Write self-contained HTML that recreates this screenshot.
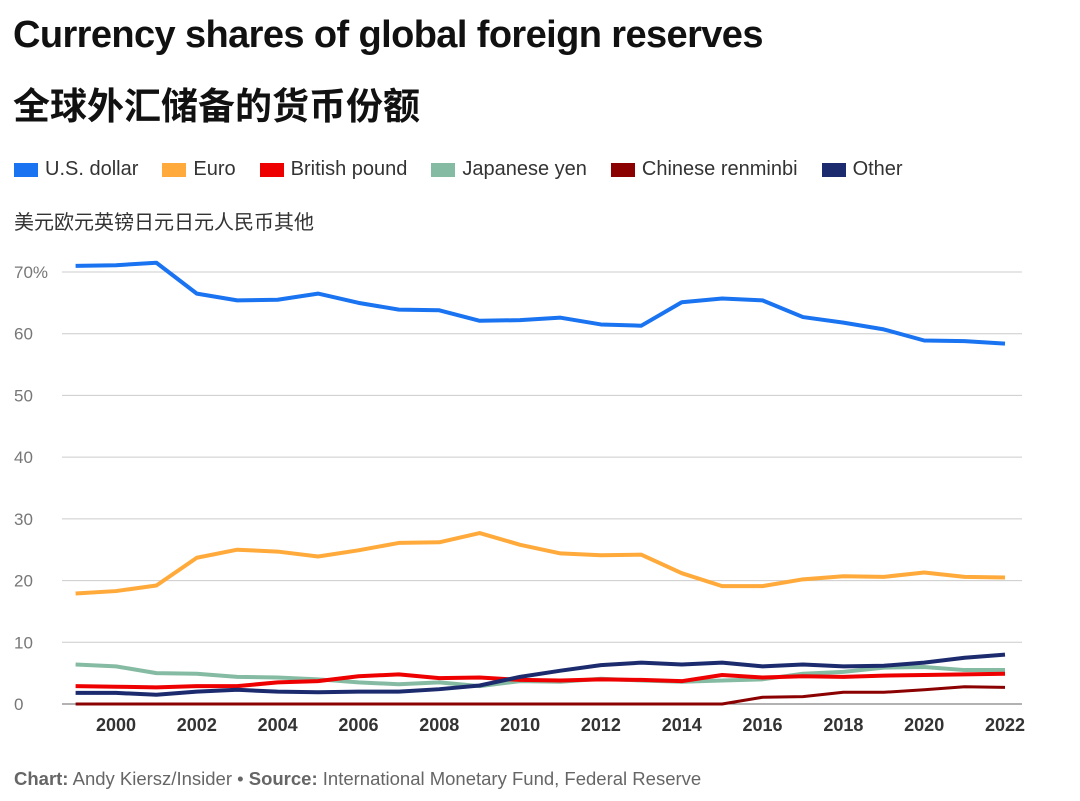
<!DOCTYPE html>
<html><head><meta charset="utf-8">
<style>
body{margin:0;width:1080px;height:801px;background:#fff;font-family:"Liberation Sans","Noto Sans CJK SC",sans-serif;overflow:hidden;position:relative}
.t1{position:absolute;left:13px;top:14px;font-size:38px;font-weight:bold;color:#111;letter-spacing:-0.6px}
.t2{position:absolute;left:13px;top:76px;font-size:37px;font-weight:bold;color:#111}
.leg{position:absolute;left:14px;top:158px;font-size:20px;color:#333;display:flex;gap:24px}
.leg span{display:flex;align-items:center}
.leg i{display:inline-block;width:24px;height:14px;margin-right:7px}
.sub{position:absolute;left:14px;top:206px;font-size:20px;color:#333}
.foot{position:absolute;left:14px;top:768px;font-size:18.5px;color:#666}
svg{position:absolute;left:0;top:0}
</style></head><body>
<div class="t1">Currency shares of global foreign reserves</div>
<div class="t2">全球外汇储备的货币份额</div>
<div class="leg">
<span><i style="background:#1a73f0"></i>U.S. dollar</span>
<span><i style="background:#ffaa3b"></i>Euro</span>
<span><i style="background:#ee0000"></i>British pound</span>
<span><i style="background:#86bba3"></i>Japanese yen</span>
<span><i style="background:#8b0000"></i>Chinese renminbi</span>
<span><i style="background:#1c2b6e"></i>Other</span>
</div>
<div class="sub">美元欧元英镑日元日元人民币其他</div>
<div class="foot"><b>Chart:</b> Andy Kiersz/Insider • <b>Source:</b> International Monetary Fund, Federal Reserve</div>
<svg id="chart" width="1080" height="801"></svg>
<script>
const years=[1999,2000,2001,2002,2003,2004,2005,2006,2007,2008,2009,2010,2011,2012,2013,2014,2015,2016,2017,2018,2019,2020,2021,2022];
const usd=[71.0,71.1,71.5,66.5,65.4,65.5,66.5,65.0,63.9,63.8,62.1,62.2,62.6,61.5,61.3,65.1,65.7,65.4,62.7,61.8,60.7,58.9,58.8,58.4];
const euro=[17.9,18.3,19.2,23.7,25.0,24.7,23.9,24.9,26.1,26.2,27.7,25.8,24.4,24.1,24.2,21.2,19.1,19.1,20.2,20.7,20.6,21.3,20.6,20.5];
const gbp=[2.9,2.8,2.7,2.9,2.9,3.5,3.7,4.5,4.8,4.2,4.3,3.9,3.8,4.0,3.9,3.7,4.7,4.3,4.5,4.4,4.6,4.7,4.8,4.9];
const jpy=[6.4,6.1,5.0,4.9,4.4,4.3,4.0,3.5,3.2,3.5,2.9,3.7,3.6,4.1,3.8,3.6,3.8,4.0,4.9,5.2,5.9,6.0,5.5,5.5];
const cny=[0,0,0,0,0,0,0,0,0,0,0,0,0,0,0,0,0,1.1,1.2,1.9,1.9,2.3,2.8,2.7];
const other=[1.8,1.8,1.5,2.0,2.3,2.0,1.9,2.0,2.0,2.4,3.0,4.4,5.4,6.3,6.7,6.4,6.7,6.1,6.4,6.1,6.2,6.7,7.5,8.0];
const yTicks=[0,10,20,30,40,50,60,70];
const xTicks=[2000,2002,2004,2006,2008,2010,2012,2014,2016,2018,2020,2022];
const X=y=>116+(y-2000)*(1005-116)/22;
const Y=v=>704-v*(704-272)/70;
const svg=document.getElementById('chart');
const NS='http://www.w3.org/2000/svg';
function mk(t,a){const e=document.createElementNS(NS,t);for(const k in a)e.setAttribute(k,a[k]);svg.appendChild(e);return e;}
yTicks.forEach(v=>{
 const l=mk('line',{x1:62,x2:1022,y1:Y(v),y2:Y(v),stroke:v===0?'#666':'#ccc','stroke-width':1});
 
 
 const t=mk('text',{x:14,y:Y(v)+6,'font-size':17,fill:'#777','font-family':'Liberation Sans, sans-serif'});
 t.textContent=v===70?'70%':v;
 
 
});
xTicks.forEach(y=>{
 const t=mk('text',{x:X(y),y:731,'font-size':18,'font-weight':'bold',fill:'#333','text-anchor':'middle','font-family':'Liberation Sans, sans-serif'});
 t.textContent=y;
 
 
});
[[jpy,'#86bba3','jpy',4],[cny,'#8b0000','cny',3],[gbp,'#ee0000','gbp',4],[other,'#1c2b6e','other',4],[euro,'#ffaa3b','euro',4],[usd,'#1a73f0','usd',4]].forEach(([d,c,n,w])=>{
 const p=mk('polyline',{points:d.map((v,i)=>X(years[i])+','+Y(v)).join(' '),fill:'none',stroke:c,'stroke-width':w,'stroke-linejoin':'round'});
 
 
});
</script>
</body></html>
